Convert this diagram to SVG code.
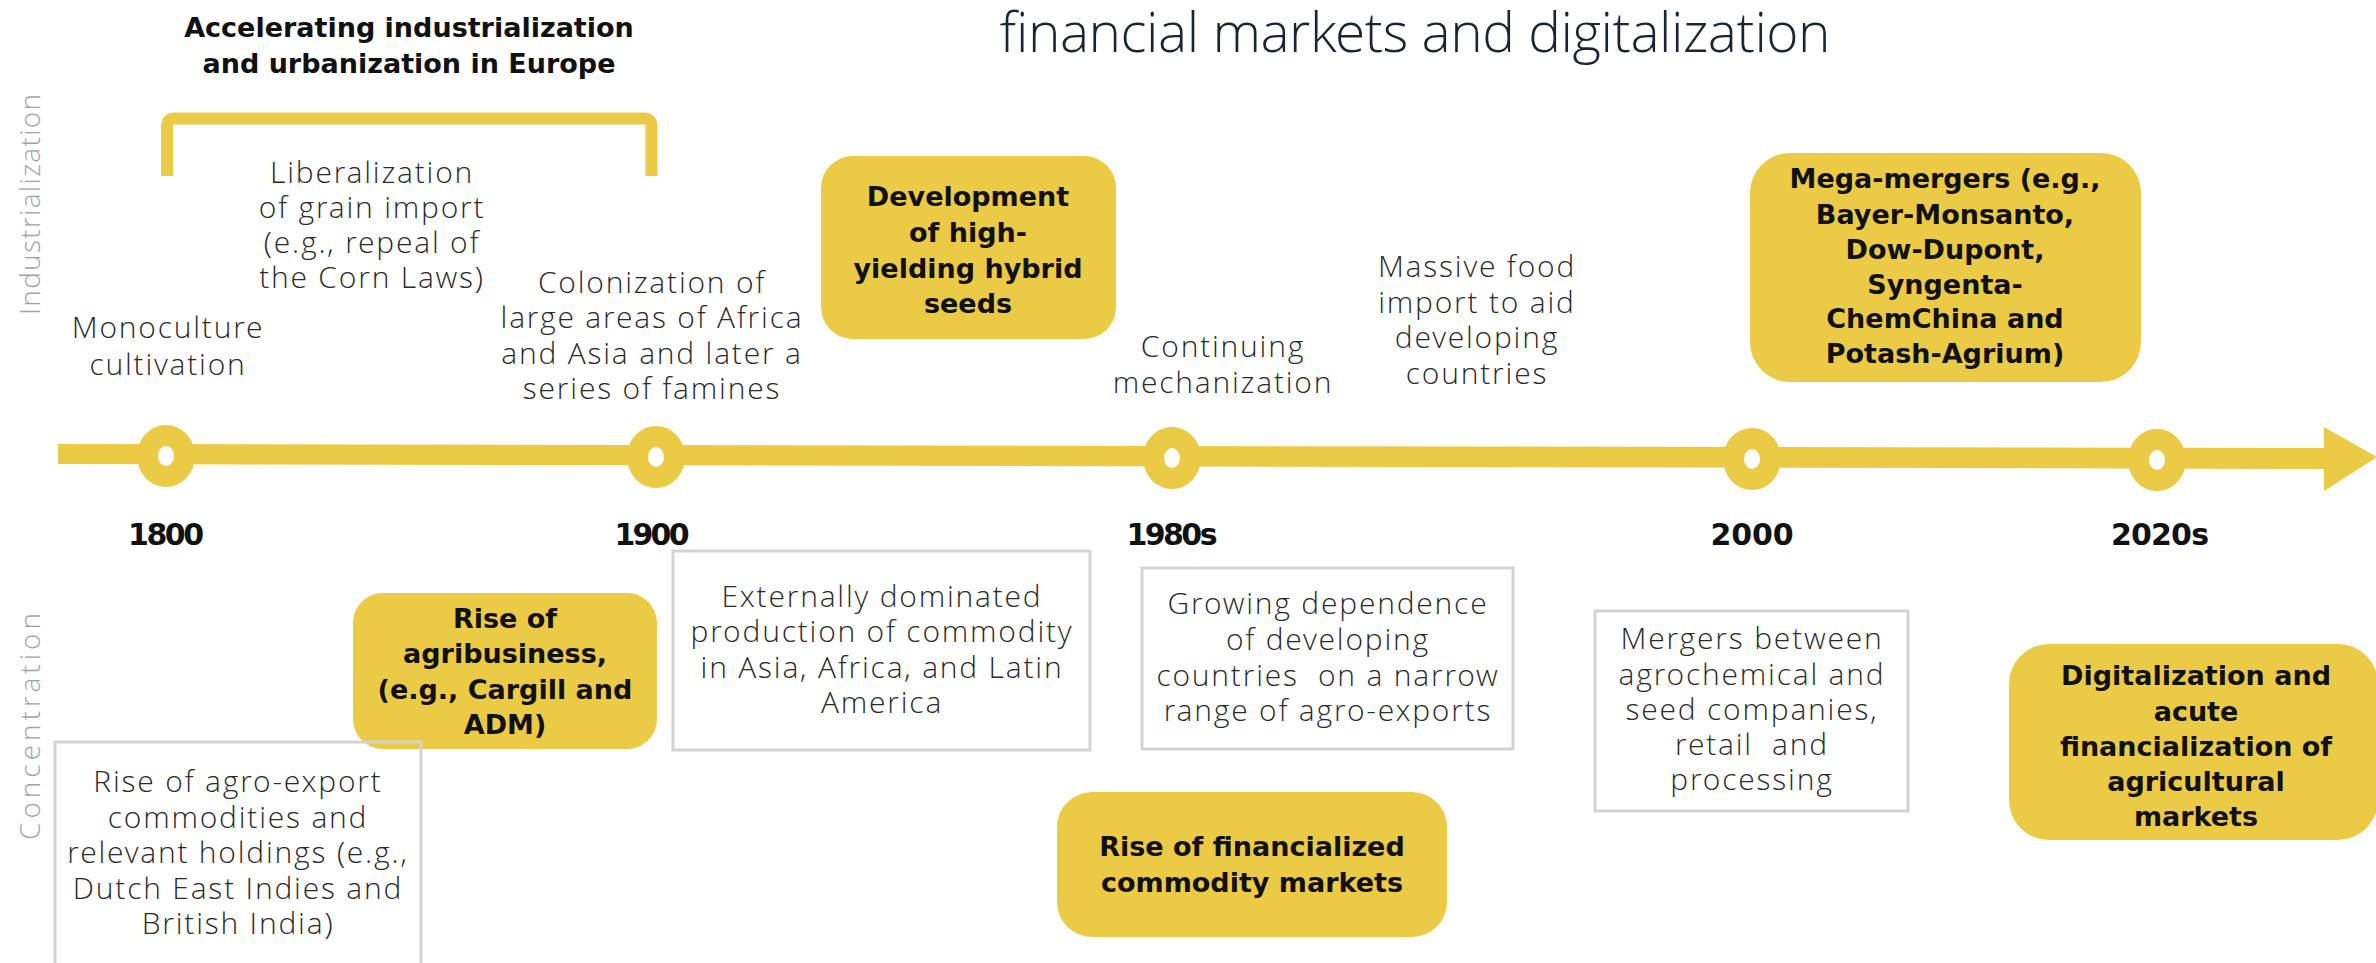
<svg xmlns="http://www.w3.org/2000/svg" width="2376" height="963" viewBox="0 0 2376 963">
<style>
.bold{font-family:"DejaVu Sans","Liberation Sans",sans-serif;font-weight:700;font-size:27px;fill:#111;text-anchor:middle}
.light{font-family:"Open Sans Light","Open Sans","Liberation Sans",sans-serif;font-weight:300;font-size:30px;letter-spacing:1.8px;fill:#2a2a2a;text-anchor:middle}
.year{font-family:"DejaVu Sans","Liberation Sans",sans-serif;font-weight:700;font-size:30px;fill:#111;text-anchor:middle}
.side{font-family:"Open Sans Light","Open Sans","Liberation Sans",sans-serif;font-weight:300;font-size:28px;fill:#a4a4a4}
.title{font-family:"Open Sans Light","Open Sans","Liberation Sans",sans-serif;font-weight:300;font-size:55px;fill:#1b2433}
.ybox{fill:#EBCB46}
.gbox{fill:none;stroke:#d3d3d3;stroke-width:3}
.ring{fill:#EBCB46}
.hole{fill:#fff}
</style>
<rect width="2376" height="963" fill="#fff"/>

<text class="title" x="999" y="52" textLength="831">financial markets and digitalization</text>

<g id="side-labels">
<text class="side" transform="translate(40,315) rotate(-90)" textLength="221">Industrialization</text>
<text class="side" transform="translate(40,840) rotate(-90)" textLength="227">Concentration</text>
</g>

<g id="europe-bracket">
<path d="M167,176 V126 Q167,118.5 175,118.5 H643.5 Q651.5,118.5 651.5,126 V176" fill="none" stroke="#EBCB46" stroke-width="12"/>
<text class="bold"><tspan x="409" y="37">Accelerating industrialization</tspan><tspan x="409" y="73">and urbanization in Europe</tspan></text>
</g>

<g id="connectors">
<polygon points="58,444 2326,448 2326,469 58,464" fill="#EBCB46"/>
<polygon points="2324,427 2377,457 2324,491" fill="#EBCB46"/>
</g>

<g id="marker-1800">
<ellipse class="ring" cx="166" cy="456" rx="29" ry="31"/>
<ellipse class="hole" cx="166" cy="456" rx="8" ry="10"/>
<text class="year" x="166" y="545" textLength="76">1800</text>
</g>
<g id="marker-1900">
<ellipse class="ring" cx="656" cy="457" rx="29" ry="31"/>
<ellipse class="hole" cx="656" cy="457" rx="8" ry="10"/>
<text class="year" x="652" y="545" textLength="75">1900</text>
</g>
<g id="marker-1980s">
<ellipse class="ring" cx="1172" cy="458" rx="29" ry="31"/>
<ellipse class="hole" cx="1172" cy="458" rx="8" ry="10"/>
<text class="year" x="1172" y="545" textLength="91">1980s</text>
</g>
<g id="marker-2000">
<ellipse class="ring" cx="1752" cy="459" rx="29" ry="31"/>
<ellipse class="hole" cx="1752" cy="459" rx="8" ry="10"/>
<text class="year" x="1752" y="545" textLength="83">2000</text>
</g>
<g id="marker-2020s">
<ellipse class="ring" cx="2157" cy="460" rx="29" ry="31"/>
<ellipse class="hole" cx="2157" cy="460" rx="8" ry="10"/>
<text class="year" x="2160" y="545" textLength="98">2020s</text>
</g>

<g id="monoculture">
<text class="light"><tspan x="168" y="338">Monoculture</tspan><tspan x="168" y="375">cultivation</tspan></text>
</g>
<g id="liberalization">
<text class="light"><tspan x="372" y="183">Liberalization</tspan><tspan x="372" y="218">of grain import</tspan><tspan x="372" y="253">(e.g., repeal of</tspan><tspan x="372" y="288">the Corn Laws)</tspan></text>
</g>
<g id="colonization">
<text class="light"><tspan x="652" y="293">Colonization of</tspan><tspan x="652" y="328">large areas of Africa</tspan><tspan x="652" y="364">and Asia and later a</tspan><tspan x="652" y="399">series of famines</tspan></text>
</g>
<g id="hybrid-seeds">
<rect class="ybox" x="821" y="156" width="295" height="183" rx="32"/>
<text class="bold"><tspan x="968" y="206">Development</tspan><tspan x="968" y="242">of high-</tspan><tspan x="968" y="278">yielding hybrid</tspan><tspan x="968" y="313">seeds</tspan></text>
</g>
<g id="mechanization">
<text class="light"><tspan x="1223" y="357">Continuing</tspan><tspan x="1223" y="393">mechanization</tspan></text>
</g>
<g id="food-import">
<text class="light"><tspan x="1477" y="277">Massive food</tspan><tspan x="1477" y="313">import to aid</tspan><tspan x="1477" y="348">developing</tspan><tspan x="1477" y="384">countries</tspan></text>
</g>
<g id="mega-mergers">
<rect class="ybox" x="1750" y="153" width="391" height="229" rx="40"/>
<text class="bold"><tspan x="1945" y="188">Mega-mergers (e.g.,</tspan><tspan x="1945" y="224">Bayer-Monsanto,</tspan><tspan x="1945" y="259">Dow-Dupont,</tspan><tspan x="1945" y="294">Syngenta-</tspan><tspan x="1945" y="328">ChemChina and</tspan><tspan x="1945" y="363">Potash-Agrium)</tspan></text>
</g>

<g id="agribusiness">
<rect class="ybox" x="353" y="593" width="304" height="156" rx="30"/>
<text class="bold"><tspan x="505" y="628">Rise of</tspan><tspan x="505" y="663">agribusiness,</tspan><tspan x="505" y="699">(e.g., Cargill and</tspan><tspan x="505" y="734">ADM)</tspan></text>
</g>
<g id="agro-export">
<rect class="gbox" x="55" y="742" width="366" height="240"/>
<text class="light"><tspan x="238" y="792">Rise of agro-export</tspan><tspan x="238" y="828">commodities and</tspan><tspan x="238" y="863">relevant holdings (e.g.,</tspan><tspan x="238" y="899">Dutch East Indies and</tspan><tspan x="238" y="934">British India)</tspan></text>
</g>
<g id="externally-dominated">
<rect class="gbox" x="673" y="551" width="417" height="199"/>
<text class="light"><tspan x="882" y="607">Externally dominated</tspan><tspan x="882" y="642">production of commodity</tspan><tspan x="882" y="678">in Asia, Africa, and Latin</tspan><tspan x="882" y="713">America</tspan></text>
</g>
<g id="growing-dependence">
<rect class="gbox" x="1142" y="568" width="371" height="181"/>
<text class="light" xml:space="preserve"><tspan x="1328" y="614">Growing dependence</tspan><tspan x="1328" y="650">of developing</tspan><tspan x="1328" y="686">countries  on a narrow</tspan><tspan x="1328" y="721">range of agro-exports</tspan></text>
</g>
<g id="financialized-markets">
<rect class="ybox" x="1057" y="792" width="390" height="145" rx="35"/>
<text class="bold"><tspan x="1252" y="856">Rise of financialized</tspan><tspan x="1252" y="892">commodity markets</tspan></text>
</g>
<g id="mergers">
<rect class="gbox" x="1595" y="611" width="313" height="200"/>
<text class="light" xml:space="preserve"><tspan x="1752" y="649">Mergers between</tspan><tspan x="1752" y="685">agrochemical and</tspan><tspan x="1752" y="720">seed companies,</tspan><tspan x="1752" y="755">retail  and</tspan><tspan x="1752" y="790">processing</tspan></text>
</g>
<g id="digitalization">
<rect class="ybox" x="2009" y="644" width="369" height="196" rx="40"/>
<text class="bold"><tspan x="2196" y="685">Digitalization and</tspan><tspan x="2196" y="721">acute</tspan><tspan x="2196" y="756">financialization of</tspan><tspan x="2196" y="791">agricultural</tspan><tspan x="2196" y="826">markets</tspan></text>
</g>
</svg>
